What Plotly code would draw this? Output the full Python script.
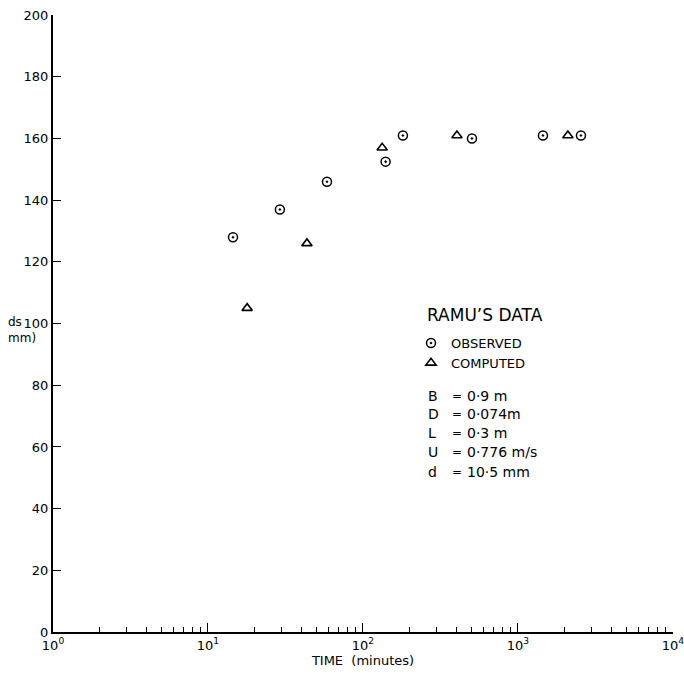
import plotly.graph_objects as go

# ---- data ----
obs_time = [14.5, 29.1, 58.6, 140, 181, 505, 1450, 2550]
obs_ds = [128, 137, 146, 152.5, 161, 160, 161, 161]
comp_time = [17.9, 43.5, 133, 404, 2100]
comp_ds = [105, 126, 157, 161, 161]

x_tickvals = [1, 10, 100, 1000, 10000]
x_ticktext = ["10<sup>0</sup>", "10<sup>1</sup>", "10<sup>2</sup>", "10<sup>3</sup>", "10<sup>4</sup>"]
y_tickvals = [0, 20, 40, 60, 80, 100, 120, 140, 160, 180, 200]

legend_title = "RAMU’S DATA"
param_names = ["B", "D", "L", "U", "d"]
param_values = ["0·9 m", "0·074m", "0·3 m", "0·776 m/s", "10·5 mm"]

FONT = "DejaVu Sans"

minor_vals = [m * 10 ** e for e in range(4) for m in range(2, 10)]

fig = go.Figure()
fig.add_trace(go.Scatter(
    x=obs_time, y=obs_ds, mode="markers", name="OBSERVED",
    marker=dict(symbol="circle-open-dot", size=9, color="black", line=dict(width=1.5, color="black")),
))
fig.add_trace(go.Scatter(
    x=comp_time, y=comp_ds, mode="markers", name="COMPUTED",
    marker=dict(symbol="triangle-up-open", size=9, color="black", line=dict(width=1.6, color="black")),
))

# body margin is removed by post_script, so figure pixels == screen pixels
W, H = 684, 675
L, T = 53, 15
pw, ph = 620, 617
R, B = W - L - pw, H - T - ph


def px(xs):
    return (xs - L) / pw


def py(ys):
    return (T + ph - ys) / ph


def ann(text, x, y, size=13):
    return dict(text=text, x=px(x), y=py(y), xref="paper", yref="paper",
                xanchor="left", yanchor="middle", showarrow=False, borderpad=0,
                font=dict(family=FONT, size=size, color="black"))


annotations = [
    ann(legend_title, 426, 315, 17),
    ann("ds", 7, 322, 12),
    ann("mm)", 7, 338, 12),
]
row_y = [396, 414, 433, 452, 472]
for name, val, yy in zip(param_names, param_values, row_y):
    annotations.append(ann(name, 427, yy, 14))
    annotations.append(ann("=", 451, yy, 12))
    annotations.append(ann(val, 466, yy, 14))

fig.update_layout(
    width=W, height=H,
    margin=dict(l=L, r=R, t=T, b=B, pad=0, autoexpand=False),
    paper_bgcolor="white", plot_bgcolor="white",
    font=dict(family=FONT, size=13, color="black"),
    showlegend=True,
    legend=dict(x=px(411), y=py(328), xanchor="left", yanchor="top",
                bgcolor="rgba(0,0,0,0)", font=dict(family=FONT, size=13, color="black"),
                itemwidth=30, tracegroupgap=0),
    annotations=annotations,
    xaxis=dict(
        type="log", range=[0, 4.0005], automargin=False,
        showgrid=False, zeroline=False,
        showline=True, linecolor="black", linewidth=2,
        ticks="inside", ticklen=9, tickwidth=1, tickcolor="black",
        tickvals=x_tickvals, ticktext=x_ticktext,
        ticklabeloverflow="allow",
        minor=dict(tickvals=minor_vals, ticks="inside", ticklen=5, tickwidth=1, tickcolor="black", showgrid=False),
        title=dict(text="TIME  (minutes)", font=dict(family=FONT, size=13), standoff=4),
        tickfont=dict(family=FONT, size=13),
    ),
    yaxis=dict(
        range=[0, 200.05], automargin=False,
        showgrid=False, zeroline=False,
        showline=True, linecolor="black", linewidth=2,
        ticks="inside", ticklen=8, tickwidth=1, tickcolor="black",
        tickvals=y_tickvals,
        ticklabeloverflow="allow",
        tickfont=dict(family=FONT, size=13),
    ),
)

fig.write_html(
    "out.html",
    config={"displayModeBar": False},
    post_script="document.body.style.margin='0';document.body.style.overflow='hidden';",
)
